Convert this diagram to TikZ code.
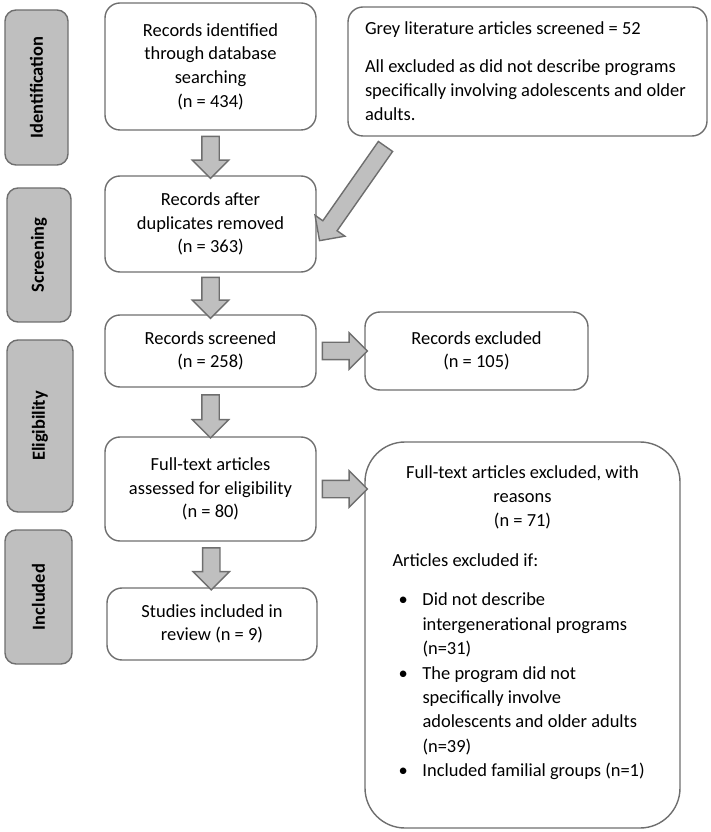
\documentclass[tikz,border=0pt]{standalone}
\usepackage{fontspec}
\setmainfont{Carlito}
\usepackage{xcolor}
\usepackage{tikz}
\usetikzlibrary{shapes,arrows,calc}
\definecolor{stagegrey}{HTML}{BFBFBF}
\definecolor{edgegrey}{HTML}{6E6E6E}
\definecolor{arrowgrey}{HTML}{BFBFBF}
\newcommand{\boxfont}{\fontsize{10.5pt}{13.5pt}\selectfont}
\newcommand{\widefont}{\fontsize{10.5pt}{13.9pt}\selectfont}
\tikzstyle{stage} = [draw=edgegrey, fill=stagegrey, line width=0.8pt, rounded corners=0.22cm, rotate=90, inner sep=0pt, font=\boxfont\bfseries]
\tikzstyle{box} = [draw=edgegrey, line width=0.8pt, rounded corners=0.3cm, align=center, inner sep=0pt, font=\boxfont]
\tikzstyle{fatarrow} = [single arrow, draw=edgegrey, fill=arrowgrey, line width=0.8pt, inner sep=0.16cm, single arrow head extend=0.19cm]

\begin{document}
\begin{tikzpicture}
            \useasboundingbox (0,0) rectangle (14.2,-16.64);

            % stages
            \node[stage, minimum width=3.1cm, minimum height=1.26cm] (ident) at (0.73,-1.75) {Identification};
            \node[stage, minimum width=2.68cm, minimum height=1.28cm] (screen) at (0.78,-5.1) {Screening};
            \node[stage, minimum width=3.44cm, minimum height=1.32cm] (elig) at (0.8,-8.52) {Eligibility};
            \node[stage, minimum width=2.68cm, minimum height=1.34cm] (incl) at (0.77,-11.94) {Included};

            % main column
            \node[box, minimum width=4.22cm, minimum height=2.54cm] (idb) at (4.21,-1.33) {Records identified\\through database\\searching\\(n = 434)};
            \node[box, minimum width=4.22cm, minimum height=1.92cm] (dup) at (4.21,-4.48) {Records after\\duplicates removed\\(n = 363)};
            \node[box, minimum width=4.22cm, minimum height=1.44cm] (scr) at (4.21,-7.02) {Records screened\\(n = 258)};
            \node[box, minimum width=4.22cm, minimum height=2.08cm] (full) at (4.21,-9.78) {Full-text articles\\assessed for eligibility\\(n = 80)};
            \node[box, minimum width=4.2cm, minimum height=1.44cm] (stud) at (4.24,-12.48) {Studies included in\\review (n = 9)};

            % right column
            \node[box, minimum width=7.18cm, minimum height=2.58cm, text width=6.5cm, align=flush left, font=\widefont] (grey) at (10.55,-1.43)
                {Grey literature articles screened = 52\\[0.26cm]All excluded as did not describe programs\\specifically involving adolescents and older\\adults.};
            \node[box, minimum width=4.46cm, minimum height=1.56cm] (excl) at (9.53,-7.02) {Records excluded\\(n = 105)};
            \node[box, rounded corners=0.8cm, minimum width=6.3cm, minimum height=7.72cm, text width=5.5cm, align=flush left, font=\widefont] (fexcl) at (10.45,-12.7)
                {{\centering Full-text articles excluded, with\\reasons\\(n = 71)\par}
                \vspace{0.3cm}
                \hspace*{0.15cm}Articles excluded if:\\[0.3cm]
                \hspace*{0.27cm}\makebox[0.48cm][l]{\textbullet}Did not describe\\
                \hspace*{0.75cm}intergenerational programs\\
                \hspace*{0.75cm}(n=31)\\
                \hspace*{0.27cm}\makebox[0.48cm][l]{\textbullet}The program did not\\
                \hspace*{0.75cm}specifically involve\\
                \hspace*{0.75cm}adolescents and older adults\\
                \hspace*{0.75cm}(n=39)\\
                \hspace*{0.27cm}\makebox[0.48cm][l]{\textbullet}Included familial groups (n=1)\par
                \rule{0pt}{0.46cm}};

            % arrows
            \node[fatarrow, rotate=-90, minimum height=0.84cm] (a1) at ($(idb.south)!0.5!(dup.north)$) {};
            \node[fatarrow, rotate=-90, minimum height=0.82cm] (a2) at ($(dup.south)!0.5!(scr.north)$) {};
            \node[fatarrow, rotate=-90, minimum height=0.86cm] (a3) at ($(scr.south)!0.5!(full.north)$) {};
            \node[fatarrow, rotate=-90, minimum height=0.84cm] (a4) at ($(full.south)!0.5!(stud.north)$) {};
            \node[fatarrow, minimum height=0.9cm] (a5) at ($(scr.east)!0.5!(excl.west)$) {};
            \node[fatarrow, minimum height=0.9cm] (a6) at ($(full.east)!0.5!(full.east -| fexcl.west)$) {};

            \coordinate (gtail) at (7.76,-2.86);
            \coordinate (gtip) at (6.44,-4.74);
            \node[fatarrow, rotate=-125, minimum height=2.3cm] (a7) at ($(gtail)!0.5!(gtip)$) {};

\end{tikzpicture}
\end{document}
